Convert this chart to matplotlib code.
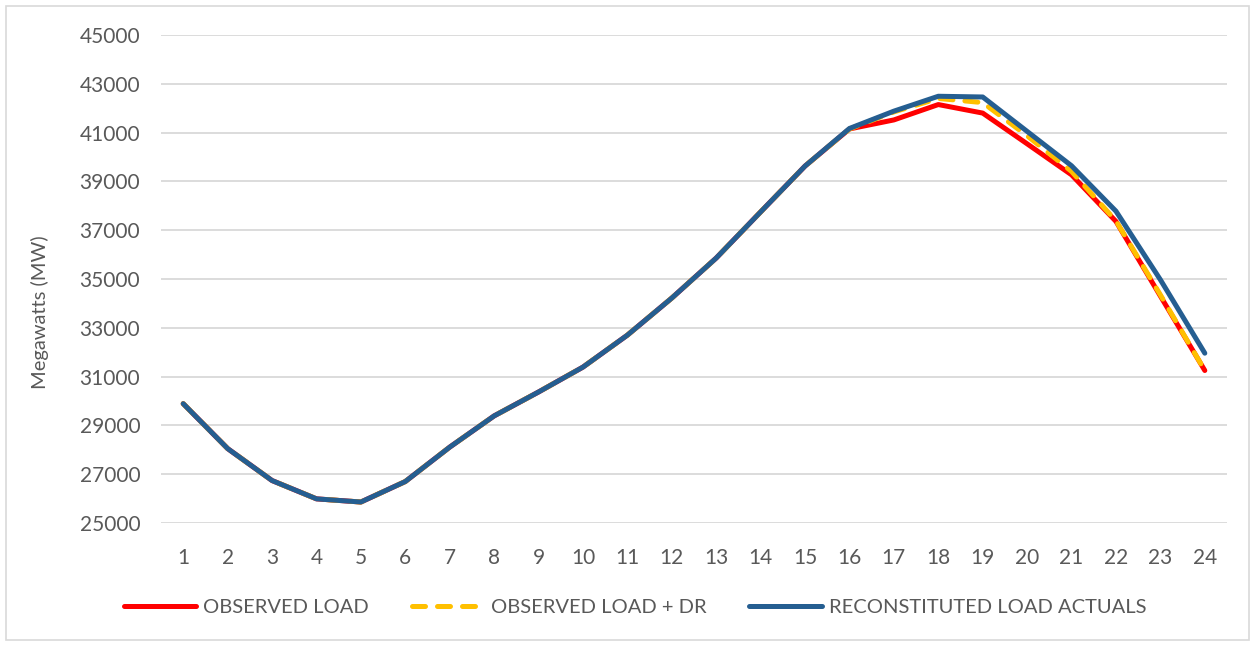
import matplotlib
matplotlib.use("Agg")
import matplotlib.pyplot as plt
from matplotlib.patches import Rectangle

hours = list(range(1, 25))
observed_load = [29890, 28050, 26740, 25990, 25860, 26700, 28110, 29390, 30370, 31390,
                 32700, 34220, 35860, 37750, 39630, 41150, 41520, 42150, 41800, 40540,
                 39270, 37360, 34300, 31250]
observed_load_dr = [29890, 28050, 26740, 25990, 25860, 26700, 28110, 29390, 30370, 31390,
                    32700, 34220, 35860, 37750, 39630, 41150, 41850, 42400, 42230, 40870,
                    39410, 37380, 34350, 31250]
reconstituted = [29890, 28050, 26740, 25990, 25860, 26700, 28110, 29390, 30370, 31390,
                 32700, 34220, 35860, 37750, 39630, 41170, 41880, 42490, 42460, 41050,
                 39640, 37780, 34970, 31960]
y_ticks = list(range(25000, 45001, 2000))

FONT = ["Lato", "DejaVu Sans"]
TXT = "#595959"
GRID = "#d9d9d9"

fig = plt.figure(figsize=(12.55, 6.46), dpi=100)
ax = fig.add_axes([0.1283, 0.1904, 0.8494, 0.7554])

l1, = ax.plot(hours, observed_load, color="#FF0000", lw=3.6, solid_capstyle="round",
              solid_joinstyle="round", label="OBSERVED LOAD", zorder=3)
l2, = ax.plot(hours, observed_load_dr, color="#FFC000", lw=3.6, dashes=(2.6, 2.4),
              dash_capstyle="round", label="OBSERVED LOAD + DR", zorder=4)
l3, = ax.plot(hours, reconstituted, color="#255E91", lw=3.6, solid_capstyle="round",
              solid_joinstyle="round", label="RECONSTITUTED LOAD ACTUALS", zorder=5)

ax.set_xlim(0.5, 24.5)
ax.set_ylim(25000, 45000)
ax.set_xticks(hours)
ax.set_xticklabels([str(h) for h in hours])
ax.set_yticks(y_ticks)
ax.set_yticklabels([str(v) for v in y_ticks])
ax.grid(axis="y", color=GRID, lw=1.3)
ax.set_axisbelow(True)
for s in ax.spines.values():
    s.set_visible(False)
ax.tick_params(length=0, labelsize=15, labelcolor=TXT)
ax.tick_params(axis="x", pad=18)
ax.tick_params(axis="y", pad=15)
for lab in ax.get_xticklabels() + ax.get_yticklabels():
    lab.set_family(FONT)

fig.text(40 / 1255, 1 - 312 / 646, "Megawatts (MW)", rotation=90, ha="center",
         va="center", fontsize=14.5, color=TXT, family=FONT)

leg = fig.legend(handles=[l1, l2, l3], loc="center", bbox_to_anchor=(635 / 1255, 1 - 607 / 646),
                 ncol=3, frameon=False, handlelength=3.6, handletextpad=0.35,
                 columnspacing=2.1, prop={"family": FONT, "size": 14.5})
for t in leg.get_texts():
    t.set_color(TXT)

fig.patches.append(Rectangle((6 / 1255, 6 / 646), 1 - 12 / 1255, 1 - 12 / 646,
                             transform=fig.transFigure, fill=False, edgecolor=GRID, lw=1.2))

fig.savefig("out.png", dpi=100)
